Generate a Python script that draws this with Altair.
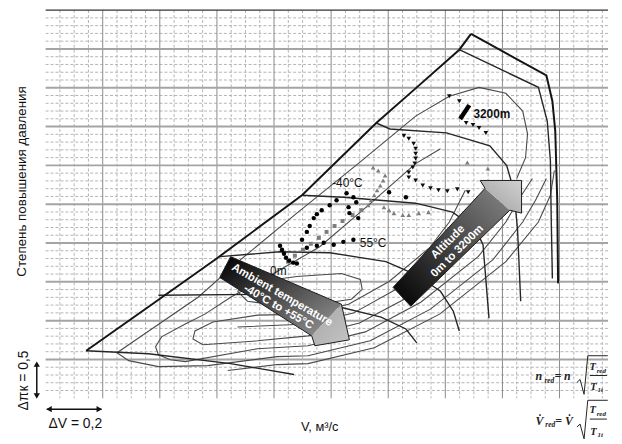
import altair as alt
import pandas as pd

# ---------------- axes ranges & grid ----------------
V_DOMAIN = [0.0, 1.97]
P_DOMAIN = [1.0, 6.0]
V_MINOR = [round(i * 0.05, 2) for i in range(1, 40) if i % 4]
V_MAJOR = [round(i * 0.2, 1) for i in range(1, 10)]
P_MINOR = [round(1 + i * 0.1, 1) for i in range(1, 50) if i % 5]
P_MAJOR = [round(1 + i * 0.5, 1) for i in range(1, 10)]
V_TICKS = [round(i * 0.05, 2) for i in range(0, 40)]
P_TICKS = [round(1 + i * 0.1, 1) for i in range(0, 51)]

# ---------------- map lines (V, pressure ratio) ----------------
SURGE_V = [0.142, 0.378, 0.603, 0.898, 1.158, 1.296, 1.449, 1.490]
SURGE_P = [1.612, 2.224, 2.811, 3.615, 4.546, 4.992, 5.490, 5.694]
CAP_V = [1.490, 1.754, 1.775, 1.785, 1.792, 1.795]
CAP_P = [5.694, 5.158, 4.827, 4.444, 3.551, 2.480]

TOP_V = [1.449, 1.726, 1.757, 1.768, 1.771, 1.775]
TOP_P = [5.490, 5.005, 4.571, 4.061, 3.296, 2.543]
S4_V = [1.158, 1.206, 1.404, 1.556, 1.615, 1.640, 1.653, 1.664]
S4_P = [4.546, 4.469, 4.418, 4.253, 3.997, 3.679, 3.168, 2.250]
S3_V = [0.898, 1.043, 1.296, 1.425, 1.504, 1.532, 1.553]
S3_P = [3.615, 3.589, 3.513, 3.398, 3.194, 2.977, 2.033]
S2B_V = [0.610, 0.821, 0.995, 1.192, 1.296, 1.383, 1.428, 1.449]
S2B_P = [2.824, 2.888, 2.875, 2.760, 2.594, 2.378, 2.122, 1.867]
S2_V = [0.395, 0.742, 1.019, 1.175, 1.262, 1.300]
S2_P = [2.327, 2.339, 2.186, 2.046, 1.893, 1.714]
S1_V = [0.142, 0.360, 0.648, 0.870]
S1_P = [1.612, 1.574, 1.446, 1.306]

# efficiency contours
U1_V = [0.250, 0.534, 0.683, 0.880, 1.099, 1.296, 1.414, 1.518, 1.612, 1.671, 1.688, 1.681, 1.650]
U1_P = [1.587, 2.301, 2.786, 3.385, 4.036, 4.635, 4.890, 5.005, 4.929, 4.699, 4.406, 4.099, 3.832]
UC_V = [1.383, 1.296, 1.123, 0.960, 0.811, 0.648, 0.558, 0.489, 0.406, 0.385, 0.395, 0.437, 0.489,
        0.742, 0.919, 1.120, 1.314, 1.515, 1.612, 1.660, 1.705]
UC_P = [4.214, 4.023, 3.462, 2.952, 2.633, 2.301, 2.084, 1.957, 1.791, 1.663, 1.561, 1.497, 1.472,
        1.638, 1.676, 1.855, 2.237, 2.824, 3.270, 3.577, 3.832]
UA_V = [1.470, 1.414, 1.345, 1.203, 1.061, 0.919, 0.742, 0.586, 0.523, 0.516, 0.551, 0.742, 0.919,
        1.099, 1.276, 1.456, 1.542, 1.591]
UA_P = [3.679, 3.270, 2.939, 2.505, 2.212, 2.084, 2.071, 1.982, 1.867, 1.765, 1.689, 1.740, 1.804,
        1.969, 2.314, 2.862, 3.270, 3.577]
L2_V = [0.672, 0.919, 1.078, 1.234, 1.397, 1.473, 1.525]
L2_P = [1.918, 1.957, 2.097, 2.416, 2.901, 3.270, 3.602]
L5_V = [0.250, 0.291, 0.395, 0.568, 0.811, 0.919, 1.137, 1.348, 1.567, 1.671, 1.716, 1.754]
L5_P = [1.587, 1.485, 1.408, 1.421, 1.536, 1.548, 1.740, 2.148, 2.786, 3.270, 3.551, 3.832]
L6_V = [0.638, 0.811, 0.919, 1.151, 1.380, 1.612, 1.726, 1.768, 1.782]
L6_P = [1.357, 1.434, 1.446, 1.651, 2.084, 2.760, 3.270, 3.615, 3.934]
E1_V = [0.672, 0.749, 0.880, 1.036, 1.102, 1.109, 1.071, 0.950, 0.811, 0.707, 0.672]
E1_P = [2.378, 2.505, 2.569, 2.607, 2.531, 2.403, 2.276, 2.212, 2.199, 2.250, 2.378]

# ---------------- measured operating points ----------------
CIRC_V = [0.821, 0.828, 0.835, 0.842, 0.853, 0.867, 0.880, 0.898, 0.915, 0.925, 0.939, 0.950, 0.967,
          0.995, 1.019, 1.054, 1.078, 1.088, 1.061, 1.064, 1.095, 0.915, 0.950, 0.974, 1.009, 1.043,
          1.078, 1.203, 1.262]
CIRC_P = [2.964, 2.913, 2.862, 2.811, 2.773, 2.747, 2.735, 3.041, 3.143, 3.219, 3.321, 3.372, 3.423,
          3.487, 3.551, 3.640, 3.589, 3.526, 3.462, 3.385, 3.321, 2.939, 2.964, 3.003, 2.977, 3.015,
          3.041, 3.653, 3.589]
SQ_V = [0.849, 0.873, 0.901, 0.929, 0.957, 0.984, 1.012, 1.040, 1.075, 1.106]
SQ_P = [2.760, 2.837, 2.913, 2.990, 3.066, 3.143, 3.219, 3.283, 3.360, 3.423]
TUP_V = [1.130, 1.140, 1.151, 1.161, 1.172, 1.182, 1.189, 1.165, 1.147,
         1.185, 1.203, 1.220, 1.251, 1.272, 1.307, 1.341, 1.477, 1.549]
TUP_P = [3.487, 3.551, 3.615, 3.679, 3.742, 3.806, 3.870, 3.934, 3.972,
         3.462, 3.423, 3.385, 3.360, 3.360, 3.385, 3.398, 4.036, 3.959]
TDN_V = [1.255, 1.272, 1.289, 1.296, 1.296, 1.296, 1.293, 1.286, 1.272, 1.272, 1.296, 1.321, 1.348,
         1.376, 1.407, 1.442, 1.480, 1.414, 1.449, 1.473, 1.497, 1.518, 1.542]
TDN_P = [4.380, 4.342, 4.278, 4.214, 4.150, 4.087, 4.023, 3.972, 3.908, 3.844, 3.806, 3.742, 3.704,
         3.679, 3.666, 3.691, 3.653, 4.890, 4.827, 4.546, 4.520, 4.482, 4.418]
BAR_V = [1.452, 1.484]
BAR_P = [4.597, 4.776]

# ---------------- big arrows (outline vertices) ----------------
AMB_BODY_V = [0.648, 1.036, 0.932, 0.610]
AMB_BODY_P = [2.824, 2.212, 1.804, 2.556]
AMB_HEAD_V = [1.036, 1.064, 0.943, 0.932]
AMB_HEAD_P = [2.212, 1.753, 1.676, 1.804]
AMB_OUT_V = [0.648, 1.036, 1.064, 0.943, 0.932, 0.610, 0.648]
AMB_OUT_P = [2.824, 2.212, 1.753, 1.676, 1.804, 2.556, 2.824]
ALT_BODY_V = [1.217, 1.539, 1.626, 1.279]
ALT_BODY_P = [2.429, 3.704, 3.423, 2.186]
ALT_HEAD_V = [1.522, 1.667, 1.667, 1.626, 1.539]
ALT_HEAD_P = [3.806, 3.806, 3.385, 3.423, 3.704]
ALT_OUT_V = [1.217, 1.539, 1.522, 1.667, 1.667, 1.626, 1.279, 1.217]
ALT_OUT_P = [2.429, 3.704, 3.806, 3.806, 3.385, 3.423, 2.186, 2.429]

AMB_TEXT = ["Ambient temperature", "-40°C to +55°C"]
AMB_TEXT_V = [0.828, 0.815]
AMB_TEXT_P = [2.327, 2.173]
ALT_TEXT = ["Altitude", "0m to 3200m"]
ALT_TEXT_V = [1.410, 1.442]
ALT_TEXT_P = [3.010, 2.893]

LABELS = ["-40°C", "55°C", "0m"]
LABEL_V = [1.057, 1.147, 0.815]
LABEL_P = [3.768, 3.003, 2.645]

XS = alt.Scale(domain=V_DOMAIN, nice=False, zero=False)
YS = alt.Scale(domain=P_DOMAIN, nice=False, zero=False)


def X(f="V"):
    return alt.X(f"{f}:Q", scale=XS, axis=None)


def Y(f="P"):
    return alt.Y(f"{f}:Q", scale=YS, axis=None)


def line_df(groups):
    rows = []
    for name, (vs, ps) in groups.items():
        for i, (v, p) in enumerate(zip(vs, ps)):
            rows.append({"name": name, "i": i, "V": v, "P": p})
    return pd.DataFrame(rows)


def lines(groups, color, width):
    return alt.Chart(line_df(groups)).mark_line(color=color, strokeWidth=width).encode(
        x=X(), y=Y(), detail="name:N", order="i:Q")


def convex_area(vs, ps):
    pts_ = list(zip(vs, ps))
    n = len(pts_)
    rows = []
    for x in sorted(set(vs)):
        ys = []
        for k in range(n):
            (x1, y1), (x2, y2) = pts_[k], pts_[(k + 1) % n]
            if min(x1, x2) - 1e-9 <= x <= max(x1, x2) + 1e-9:
                if abs(x2 - x1) < 1e-12:
                    ys += [y1, y2]
                else:
                    t = (x - x1) / (x2 - x1)
                    ys.append(y1 + t * (y2 - y1))
        rows.append({"V": x, "lo": min(ys), "hi": max(ys)})
    return pd.DataFrame(rows)


def grad(c0, c1, x1, y1, x2, y2):
    return alt.Gradient(gradient="linear",
                        stops=[alt.GradientStop(color=c0, offset=0), alt.GradientStop(color=c1, offset=1)],
                        x1=x1, y1=y1, x2=x2, y2=y2)


def poly(vs, ps, fill):
    return alt.Chart(convex_area(vs, ps)).mark_area(fill=fill, strokeWidth=0, opacity=1).encode(
        x=X(), y=Y("hi"), y2=alt.Y2("lo:Q"))


def pts(vs, ps, **mk):
    return alt.Chart(pd.DataFrame({"V": vs, "P": ps})).mark_point(filled=True, opacity=1, **mk).encode(
        x=X(), y=Y())


def texts(txt, vs, ps, **mk):
    return alt.Chart(pd.DataFrame({"t": txt, "V": vs, "P": ps})).mark_text(**mk).encode(
        x=X(), y=Y(), text="t:N")


SANS = "Liberation Sans"
SERIF = "Liberation Serif"

# grid
g1 = alt.Chart(pd.DataFrame({"V": V_MINOR})).mark_rule(color="#b4b4b4", strokeWidth=1, strokeDash=[3, 2]).encode(x=X())
g2 = alt.Chart(pd.DataFrame({"P": P_MINOR})).mark_rule(color="#b4b4b4", strokeWidth=1, strokeDash=[3, 2]).encode(y=Y())
g3 = alt.Chart(pd.DataFrame({"V": V_MAJOR})).mark_rule(color="#8a8a8a", strokeWidth=1).encode(x=X())
g4 = alt.Chart(pd.DataFrame({"P": P_MAJOR})).mark_rule(color="#a4a4a4", strokeWidth=2).encode(y=Y())
top = alt.Chart(pd.DataFrame({"P": [P_DOMAIN[1]]})).mark_rule(color="#333", strokeWidth=1.5).encode(y=Y())

axes = alt.Chart(pd.DataFrame({"V": [0.0], "P": [1.0]})).mark_point(opacity=0).encode(
    x=alt.X("V:Q", scale=XS, axis=alt.Axis(values=V_TICKS, labels=False, title=None, grid=False, ticks=True,
                                           tickSize=4, tickColor="#444", domainColor="#222", domainWidth=2)),
    y=alt.Y("P:Q", scale=YS, axis=alt.Axis(values=P_TICKS, labels=False, title=None, grid=False, ticks=True,
                                           tickSize=3, tickColor="#444", domainColor="#222", domainWidth=1.5)))

eff = lines({"U1": (U1_V, U1_P), "UC": (UC_V, UC_P), "UA": (UA_V, UA_P), "L2": (L2_V, L2_P),
             "L5": (L5_V, L5_P), "L6": (L6_V, L6_P), "E1": (E1_V, E1_P)}, "#4a4a4a", 1.1)
speed = lines({"S1": (S1_V, S1_P), "S2": (S2_V, S2_P), "S2b": (S2B_V, S2B_P), "S3": (S3_V, S3_P),
               "S4": (S4_V, S4_P), "TOP": (TOP_V, TOP_P)}, "#262626", 1.4)
surge = lines({"SURGE": (SURGE_V, SURGE_P), "CAP": (CAP_V, CAP_P)}, "#151515", 2)

circ = pts(CIRC_V, CIRC_P, shape="circle", size=20, color="#000000")
squ = pts(SQ_V, SQ_P, shape="square", size=16, color="#7d7d7d")
tup = pts(TUP_V, TUP_P, shape="triangle-up", size=22, color="#7d7d7d")
tdn = pts(TDN_V, TDN_P, shape="triangle-down", size=22, color="#0d0d0d")
bar = lines({"bar": (BAR_V, BAR_P)}, "#000000", 4.5)

amb_body = poly(AMB_BODY_V, AMB_BODY_P, grad("#000000", "#9a9a9a", 0, 0, 1, 1))
amb_head = poly(AMB_HEAD_V, AMB_HEAD_P, grad("#a6a6a6", "#c4c4c4", 0, 0, 1, 1))
alt_body = poly(ALT_BODY_V, ALT_BODY_P, grad("#000000", "#858585", 0, 1, 1, 0))
alt_head = poly(ALT_HEAD_V, ALT_HEAD_P, grad("#9e9e9e", "#d0d0d0", 0, 1, 1, 0))
outlines = lines({"amb": (AMB_OUT_V, AMB_OUT_P), "alt": (ALT_OUT_V, ALT_OUT_P)}, "#1a1a1a", 1)

amb_txt = texts(AMB_TEXT, AMB_TEXT_V, AMB_TEXT_P, angle=30, font=SANS, fontSize=11.5, fontWeight="bold",
                color="white", align="center", baseline="middle")
alt_txt = texts(ALT_TEXT, ALT_TEXT_V, ALT_TEXT_P, angle=315, font=SANS, fontSize=11.5, fontWeight="bold",
                color="white", align="center", baseline="middle")
lab = texts(LABELS, LABEL_V, LABEL_P, font=SANS, fontSize=12, color="#111", align="center", baseline="middle")
lab3200 = texts(["3200m"], [1.563], [4.661], font=SANS, fontSize=12, fontWeight="bold", color="#111",
                align="center", baseline="middle")

# axis annotations
ytitle = texts(["Степень повышения давления"], [-0.083], [3.793], angle=270, font=SANS, fontSize=13.5,
               color="#111", align="center", baseline="middle")
xtitle = texts(["V, м³/с"], [0.960], [0.630], font=SANS, fontSize=13, color="#111", align="center",
               baseline="middle")
dv = texts(["ΔV = 0,2"], [0.104], [0.668], font=SANS, fontSize=14, color="#111", align="center", baseline="middle")
dp = texts(["Δπк = 0,5"], [-0.076], [1.230], angle=270, font=SANS, fontSize=14, color="#111", align="center",
           baseline="middle")
dv_line = alt.Chart(pd.DataFrame({"V": [0.004], "V2": [0.196], "P": [0.860]})).mark_rule(
    color="#111", strokeWidth=1.5).encode(x=X(), x2="V2:Q", y=Y())
dp_line = alt.Chart(pd.DataFrame({"V": [-0.031], "P": [1.02], "P2": [1.45]})).mark_rule(
    color="#111", strokeWidth=1.5).encode(x=X(), y=Y(), y2="P2:Q")
dv_l = pts([0.012], [0.860], shape="triangle-left", size=40, color="#111")
dv_r = pts([0.188], [0.860], shape="triangle-right", size=40, color="#111")
dp_u = pts([-0.031], [1.44], shape="triangle-up", size=40, color="#111")
dp_d = pts([-0.031], [1.03], shape="triangle-down", size=40, color="#111")

# reduced-parameter formulas
F_TXT = ["n", "red", "= n", "T", "red", "T", "1t", "V̇", "red", "= V̇", "T", "red", "T", "1t"]
F_V = [1.716, 1.747, 1.782, 1.905, 1.930, 1.908, 1.933, 1.716, 1.750, 1.785, 1.905, 1.930, 1.908, 1.933]
F_P = [1.281, 1.220, 1.281, 1.408, 1.357, 1.140, 1.102, 0.707, 0.650, 0.707, 0.847, 0.796, 0.566, 0.528]
F_SIZE = [12, 7.5, 12, 10.5, 7, 10.5, 7, 12, 7.5, 12, 10.5, 7, 10.5, 7]
formula = alt.Chart(pd.DataFrame({"t": F_TXT, "V": F_V, "P": F_P, "fs": F_SIZE})).mark_text(
    font=SERIF, fontStyle="italic", fontWeight="bold", color="#222", align="left", baseline="middle").encode(
    x=X(), y=Y(), text="t:N", size=alt.Size("fs:Q", scale=None))
RAD1_V = [1.861, 1.872, 1.886, 1.899, 1.969]
RAD1_P = [1.204, 1.242, 1.051, 1.548, 1.548]
RAD2_V = [1.861, 1.872, 1.886, 1.899, 1.969]
RAD2_P = [0.630, 0.668, 0.477, 0.974, 0.974]
FRAC_V = [1.906, 1.966]
radicals = lines({"r1": (RAD1_V, RAD1_P), "r2": (RAD2_V, RAD2_P),
                  "f1": (FRAC_V, [1.293, 1.293]), "f2": (FRAC_V, [0.732, 0.732])}, "#222", 1)

chart = alt.layer(
    g1, g2, g3, g4, top, axes,
    eff, speed, surge,
    squ, tup, circ, tdn, bar,
    amb_body, amb_head, alt_body, alt_head, outlines, amb_txt, alt_txt,
    lab, lab3200,
    ytitle, xtitle, dv, dp, dv_line, dp_line, dv_l, dv_r, dp_u, dp_d,
    formula, radicals,
).properties(
    width=568, height=392,
    padding={"left": 38, "top": 0, "right": 6, "bottom": 40},
    autosize=alt.AutoSizeParams(type="none"),
    background="white",
).configure_view(stroke=None)

chart.save("out.html", embed_options={"renderer": "svg", "actions": False})
